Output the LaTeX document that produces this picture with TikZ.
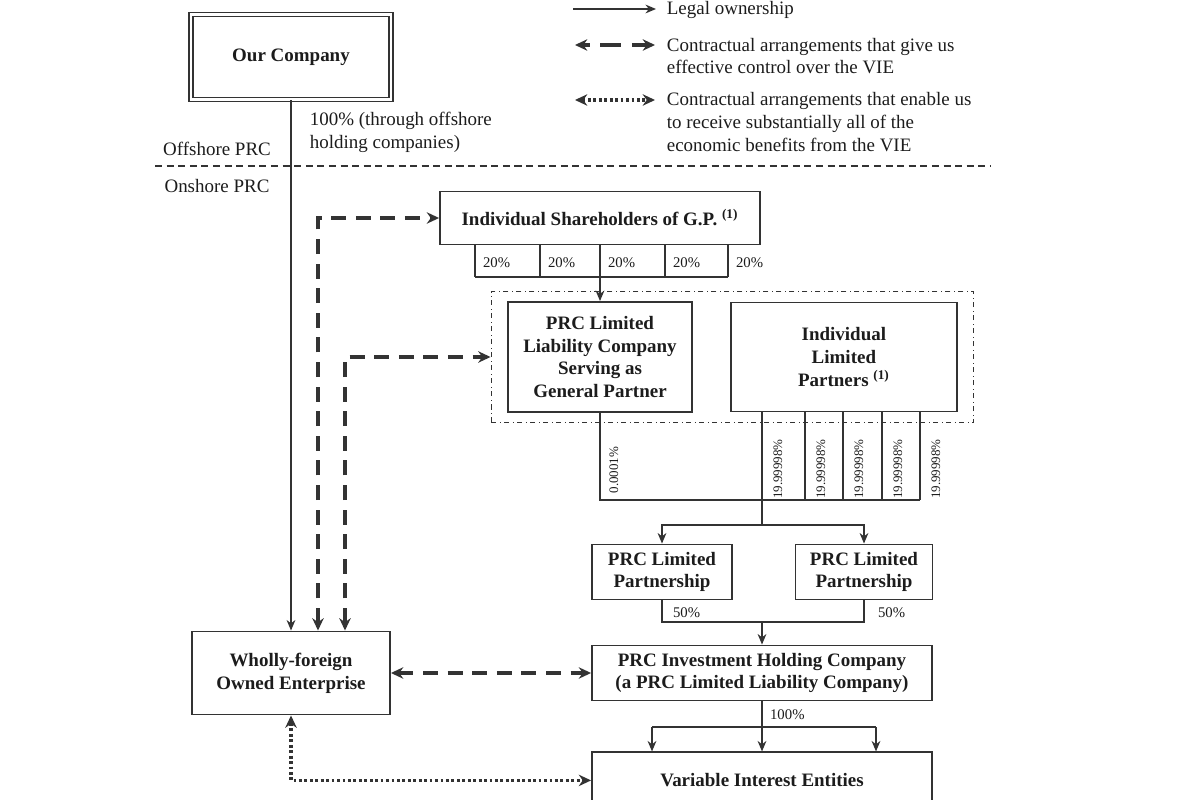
\documentclass[tikz,border=0pt]{standalone}
\usepackage{fontspec}
\setmainfont{Liberation Serif}
\usepackage{xcolor}
\usetikzlibrary{arrows.meta,positioning,fit,backgrounds}
\definecolor{ink}{HTML}{333333}
\definecolor{txt}{HTML}{1C1C1C}

\begin{document}
\begin{tikzpicture}[
    x=0.02cm,y=-0.02cm,
    node distance=5mm and 7.4mm,
    lbl/.style={text=txt,align=left,font=\fontsize{10.8}{13}\selectfont,inner sep=2pt},
    box/.style={draw=ink,line width=1.1pt,align=center,text=txt,font=\fontsize{10.8}{13}\selectfont\bfseries,inner sep=2pt},
    topbox/.style={box,line width=0.9pt,double=white,double distance=1.3pt},
    grpbox/.style={draw=ink,dash dot,line width=0.6pt,inner xsep=3.2mm,inner ysep=1.9mm},
    pct/.style={text=txt,font=\fontsize{8.4}{10}\selectfont,inner sep=1pt},
    vpct/.style={pct,rotate=90,font=\fontsize{7.4}{9}\selectfont},
    own/.style={draw=ink,line width=0.85pt},
    arrow/.style={own,-{Stealth[length=6pt,width=5pt]}},
    ctrl/.style={draw=ink,line width=2pt,dash pattern=on 8.5pt off 5.5pt,{Stealth[length=7pt,width=6.5pt]}-{Stealth[length=7pt,width=6.5pt]}},
    econ/.style={draw=ink,line width=2.1pt,dash pattern=on 1.6pt off 1.5pt,{Stealth[length=7pt,width=6.5pt]}-{Stealth[length=7pt,width=6.5pt]}},
    sep/.style={draw=ink,line width=0.9pt,dash pattern=on 4pt off 2.6pt}
  ]
    \useasboundingbox (0,0) rectangle (1200,800);
    \clip (0,0) rectangle (1200,800);

    \node[topbox,minimum width=4.0cm,minimum height=1.7cm] (comp) at (291,57) {Our Company};
    \node[box,minimum width=6.4cm,minimum height=1.06cm] (ishare) at (600,218) {Individual Shareholders of G.P. \textsuperscript{(1)}};
    \node[box,minimum width=3.68cm,minimum height=2.2cm] (gp) at (600,357) {PRC Limited\\Liability Company\\Serving as\\General Partner};
    \node[box,right=of gp,minimum width=4.52cm,minimum height=2.18cm] (ilp) {Individual\\Limited\\Partners \textsuperscript{(1)}};
    \node[box,minimum width=2.8cm,minimum height=1.1cm] (lp1) at (662,572) {PRC Limited\\Partnership};
    \node[box,minimum width=2.74cm,minimum height=1.1cm] (lp2) at (864,572) {PRC Limited\\Partnership};
    \node[box,minimum width=6.8cm,minimum height=1.1cm] (pihc) at (762,673) {PRC Investment Holding Company\\(a PRC Limited Liability Company)};
    \node[box,below=10mm of pihc,minimum width=6.8cm,minimum height=1.12cm] (vie) {Variable Interest Entities};
    \node[box,minimum width=3.96cm,minimum height=1.66cm] (wfoe) at (291,673) {Wholly-foreign\\Owned Enterprise};

    \begin{scope}[on background layer]
      \node[grpbox,fit=(gp)(ilp)] (grp) {};
    \end{scope}

    \node[lbl,anchor=west] (leg1) at (663,10) {Legal ownership};
    \node[lbl,anchor=west] (leg2) at (663,56) {Contractual arrangements that give us\\effective control over the VIE};
    \node[lbl,anchor=west] (leg3) at (663,122) {Contractual arrangements that enable us\\to receive substantially all of the\\economic benefits from the VIE};
    \coordinate (k1) at (573,9);
    \coordinate (k2) at (575,45);
    \coordinate (k3) at (575,100);
    \draw[arrow] (k1) -- ++(83,0);
    \draw[ctrl,dash pattern=on 4pt off 6pt on 12pt off 6pt on 20pt] (k2) -- ++(80,0);
    \draw[econ] (k3) -- ++(80,0);

    \node[lbl,anchor=west] (thru) at (306,132) {100\% (through offshore\\holding companies)};
    \node[lbl] (off) at (217,149) {Offshore PRC};
    \node[lbl] (on) at (217,186) {Onshore PRC};
    \draw[sep] (155,166) -- (990,166);

    \draw[arrow] (comp) -- (wfoe);
    \draw[ctrl] (318,0 |- wfoe.north) |- (ishare);
    \draw[ctrl] (345,0 |- wfoe.north) |- (grp);
    \draw[ctrl] (wfoe) -- (pihc);
    \draw[econ] (wfoe) |- (vie);

    \coordinate (j1) at (600,277);
    \foreach \x [count=\i] in {475,540,600,665,728}{
      \draw[own] (\x,0 |- ishare.south) -- (\x,0 |- j1);
      \node[pct,anchor=west] (s\i) at (\x+6,263) {20\%};
    }
    \draw[own] (475,0 |- j1) -- (728,0 |- j1);
    \draw[arrow] (j1) -- (gp);

    \coordinate (j2) at (762,500);
    \draw[own] (gp) -- (gp.south |- j2) -- (920,0 |- j2);
    \node[vpct] (g0) at (614,470) {0.0001\%};
    \foreach \x [count=\i] in {762,805,843,882,920}{
      \draw[own] (\x,0 |- ilp.south) -- (\x,0 |- j2);
      \node[vpct] (l\i) at (\x+16,469) {19.99998\%};
    }

    \coordinate (j3) at (762,525);
    \draw[own] (j2) -- (j3);
    \draw[arrow] (j3) -| (lp1);
    \draw[arrow] (j3) -| (lp2);
    \coordinate (j4) at (762,622);
    \draw[own] (lp1) |- (j4);
    \draw[own] (lp2) |- (j4);
    \node[pct,anchor=west] (h1) at (671,613) {50\%};
    \node[pct,anchor=west] (h2) at (876,613) {50\%};
    \draw[arrow] (j4) -- (pihc);

    \coordinate (j5) at (762,727);
    \draw[own] (pihc) -- (j5);
    \node[pct,anchor=west] (v0) at (768,715) {100\%};
    \draw[own] (652,0 |- j5) -- (876,0 |- j5);
    \foreach \x in {652,762,876}
      \draw[arrow] (\x,0 |- j5) -- (\x,0 |- vie.north);
  \end{tikzpicture}
\end{document}
